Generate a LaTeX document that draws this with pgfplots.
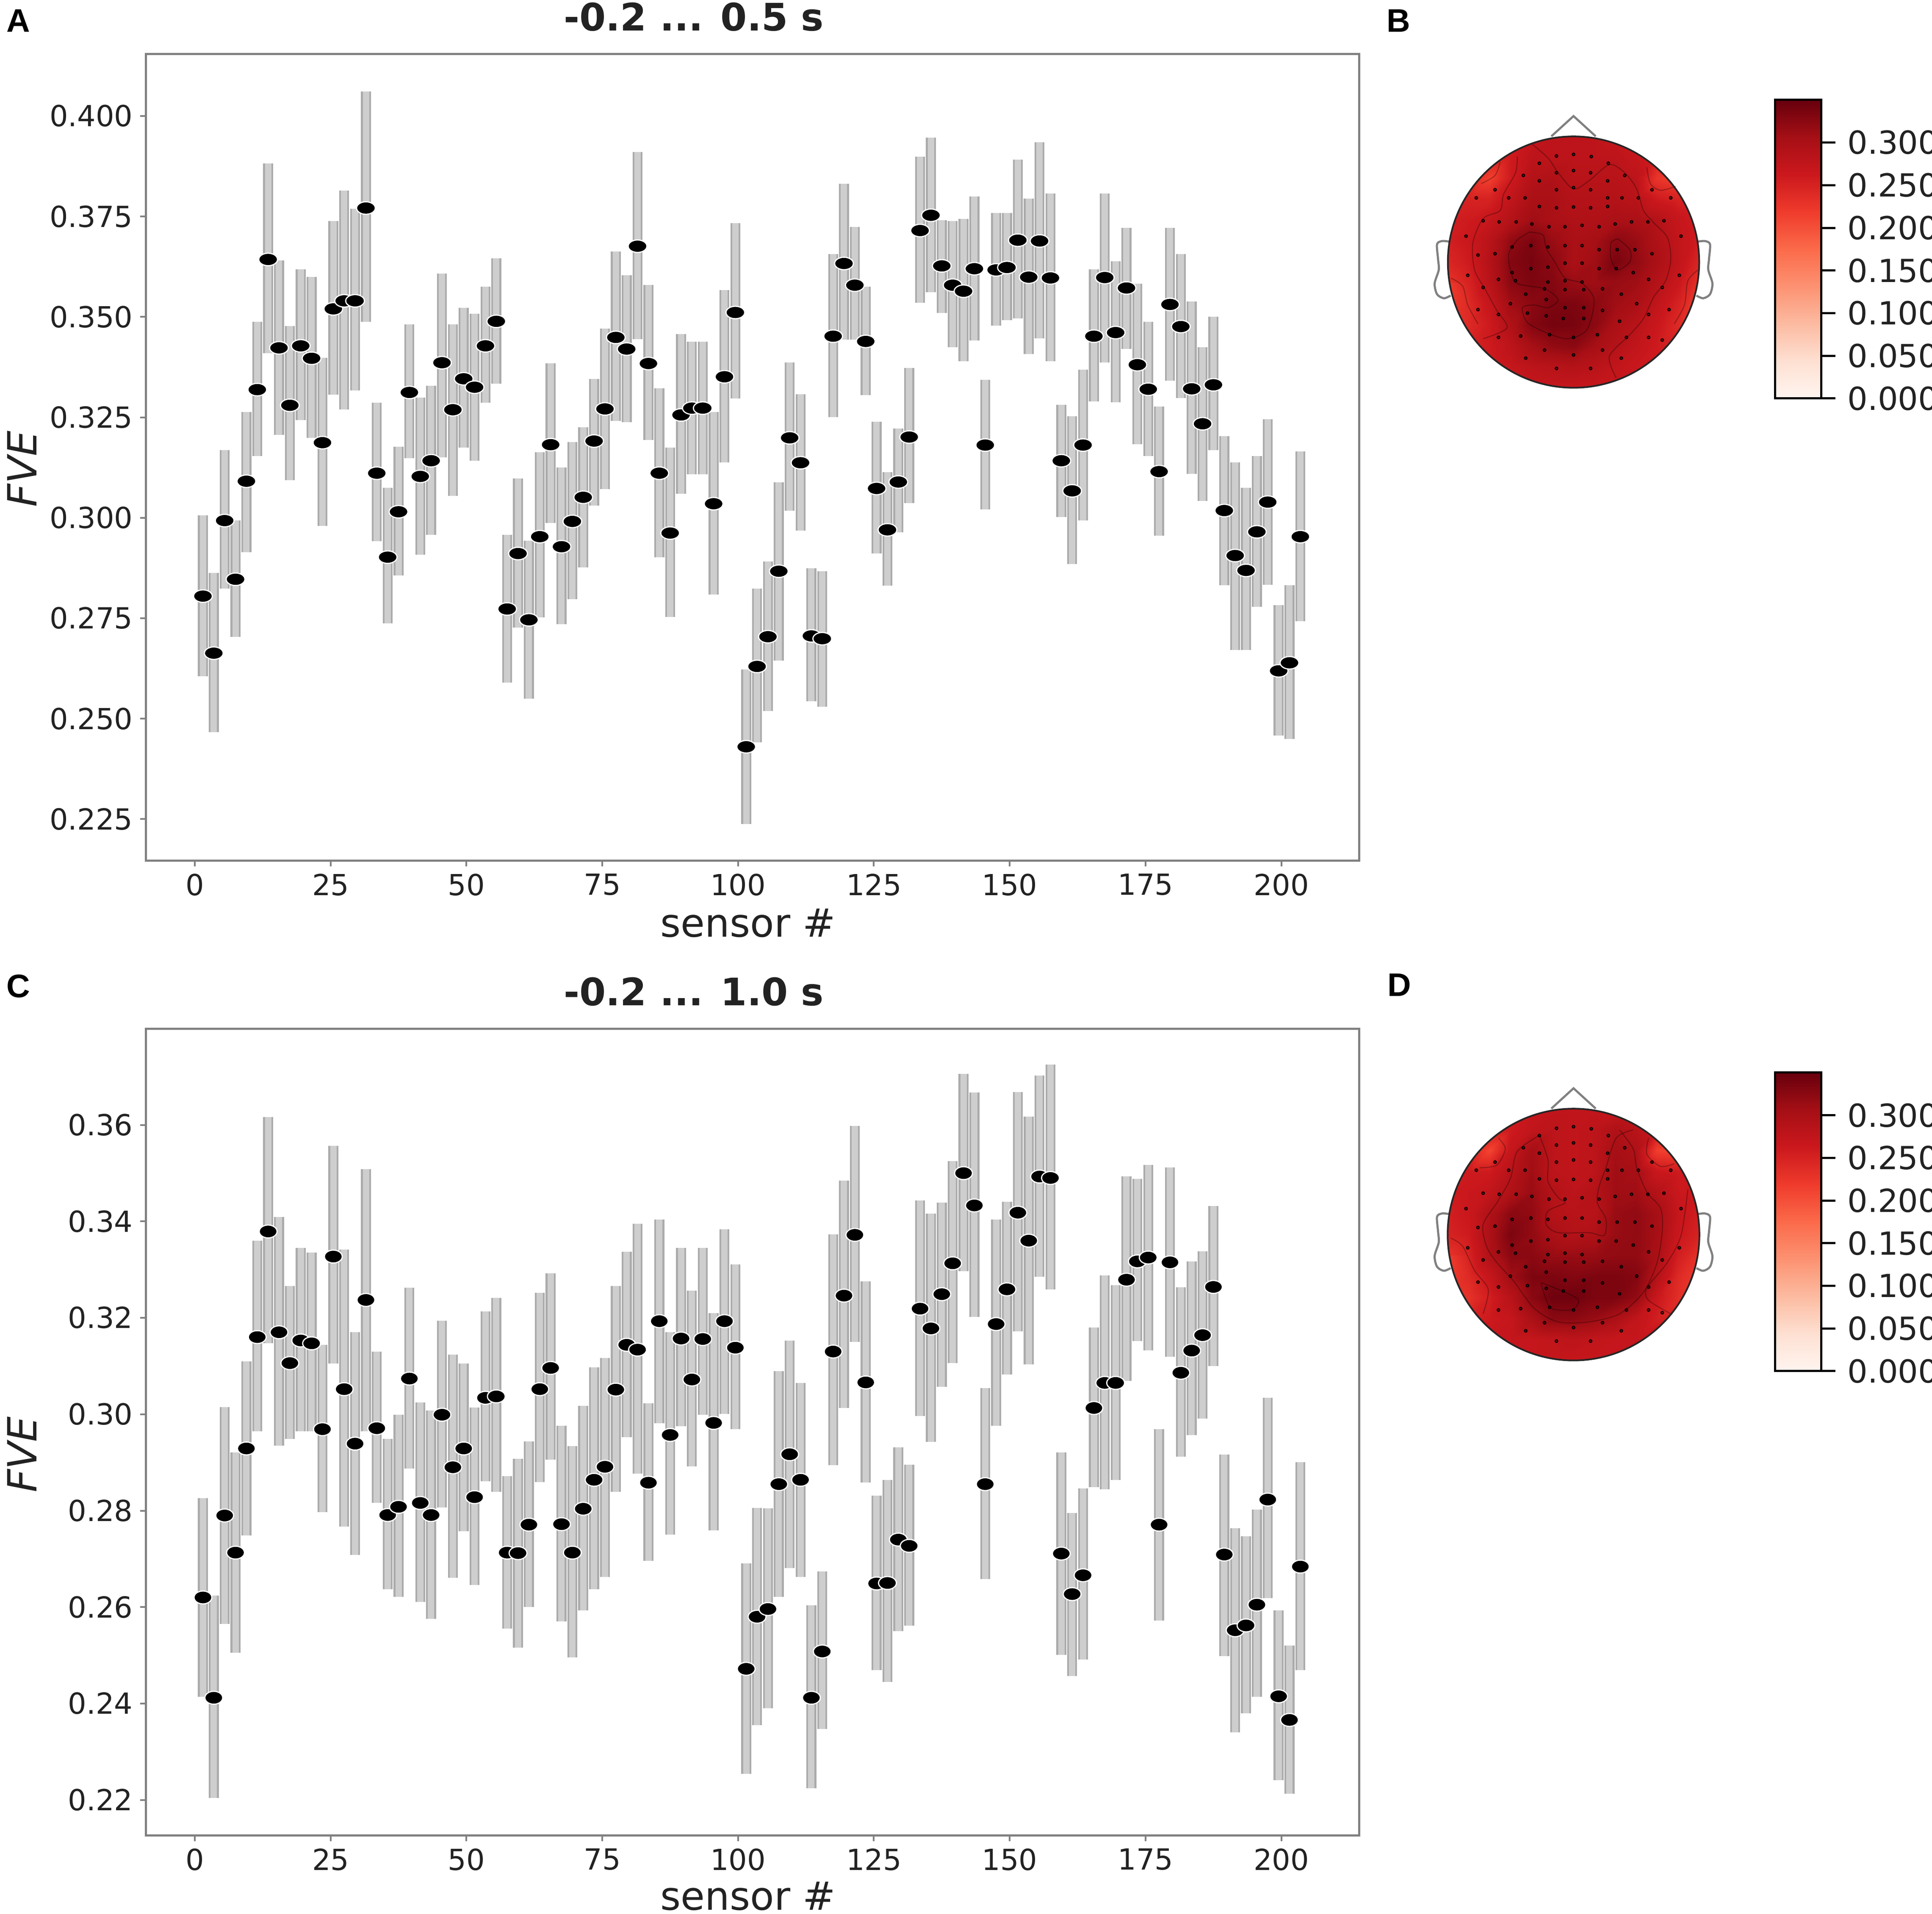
\documentclass[border=0pt]{standalone}
\usepackage{fontspec}
\setmainfont{DejaVu Sans}
\newfontfamily\panelfont{Liberation Sans}
\usepackage{pgfplots}
\usepackage{pgfplotstable}
\pgfplotsset{compat=1.18}
\definecolor{axgray}{HTML}{808080}
\definecolor{barE}{HTML}{ABABAB}
\definecolor{barI}{HTML}{CECECE}
\definecolor{lab}{HTML}{222222}
\pgfplotsset{colormap={reds}{rgb255=(255,245,240) rgb255=(254,224,210) rgb255=(252,187,161) rgb255=(252,146,114) rgb255=(251,106,74) rgb255=(239,59,44) rgb255=(203,24,29) rgb255=(165,15,21) rgb255=(103,0,13)}}

\pgfplotstableread{
x y hi lo
1.5 .2805 .3006 .2606
3.5 .2663 .2863 .2466
5.5 .2993 .3168 .2824
7.5 .2847 .2993 .2704
9.5 .3091 .3263 .2914
11.5 .3319 .3488 .3154
13.5 .3643 .3882 .3410
15.5 .3423 .3641 .3206
17.5 .3280 .3477 .3094
19.5 .3428 .3619 .3243
21.5 .3397 .3599 .3199
23.5 .3187 .3398 .2980
25.5 .3520 .3739 .3307
27.5 .3540 .3815 .3270
29.5 .3540 .3769 .3317
31.5 .3771 .4061 .3488
33.5 .3111 .3286 .2942
35.5 .2902 .3075 .2737
37.5 .3015 .3177 .2856
39.5 .3312 .3481 .3148
41.5 .3103 .3299 .2908
43.5 .3142 .3329 .2958
45.5 .3386 .3608 .3150
47.5 .3269 .3481 .3055
49.5 .3346 .3523 .3175
51.5 .3325 .3508 .3142
53.5 .3428 .3575 .3286
55.5 .3489 .3646 .3334
57.5 .2773 .2958 .2590
59.5 .2911 .3098 .2727
61.5 .2746 .2943 .2550
63.5 .2953 .3163 .2752
65.5 .3182 .3385 .2987
67.5 .2928 .3125 .2735
69.5 .2991 .3188 .2797
71.5 .3051 .3225 .2876
73.5 .3191 .3346 .3030
75.5 .3271 .3471 .3071
77.5 .3449 .3663 .3241
79.5 .3420 .3604 .3238
81.5 .3676 .3910 .3445
83.5 .3384 .3579 .3194
85.5 .3111 .3322 .2902
87.5 .2962 .3175 .2753
89.5 .3256 .3457 .3060
91.5 .3273 .3438 .3108
93.5 .3273 .3438 .3108
95.5 .3035 .3263 .2809
97.5 .3351 .3567 .3138
99.5 .3511 .3733 .3297
101.5 .2430 .2622 .2238
103.5 .2630 .2824 .2441
105.5 .2704 .2891 .2519
107.5 .2867 .3088 .2645
109.5 .3199 .3387 .3018
111.5 .3137 .3308 .2968
113.5 .2706 .2874 .2543
115.5 .2699 .2867 .2530
117.5 .3452 .3656 .3251
119.5 .3633 .3831 .3444
121.5 .3579 .3724 .3444
123.5 .3439 .3575 .3305
125.5 .3073 .3239 .2911
127.5 .2970 .3114 .2831
129.5 .3089 .3222 .2964
131.5 .3201 .3373 .3037
133.5 .3715 .3899 .3535
135.5 .3753 .3946 .3562
137.5 .3627 .3741 .3510
139.5 .3579 .3739 .3425
141.5 .3564 .3744 .3390
143.5 .3620 .3800 .3441
145.5 .3181 .3343 .3021
147.5 .3617 .3759 .3478
149.5 .3623 .3759 .3492
151.5 .3691 .3892 .3496
153.5 .3599 .3794 .3408
155.5 .3689 .3935 .3447
157.5 .3597 .3807 .3390
159.5 .3142 .3281 .3002
161.5 .3067 .3253 .2885
163.5 .3181 .3369 .2993
165.5 .3452 .3619 .3290
167.5 .3598 .3807 .3387
169.5 .3461 .3638 .3287
171.5 .3572 .3722 .3420
173.5 .3381 .3583 .3183
175.5 .3320 .3488 .3154
177.5 .3115 .3277 .2956
179.5 .3531 .3722 .3341
181.5 .3476 .3656 .3298
183.5 .3321 .3538 .3109
185.5 .3234 .3425 .3042
187.5 .3331 .3500 .3168
189.5 .3018 .3203 .2832
191.5 .2906 .3138 .2671
193.5 .2869 .3075 .2671
195.5 .2965 .3154 .2778
197.5 .3039 .3245 .2833
199.5 .2619 .2783 .2458
201.5 .2639 .2832 .2450
203.5 .2953 .3165 .2743
}\dataA

\pgfplotstableread{
x y hi lo
1.5 .2620 .2826 .2414
3.5 .2412 .2624 .2204
5.5 .2790 .3015 .2565
7.5 .2713 .2921 .2505
9.5 .2929 .3110 .2749
11.5 .3160 .3360 .2965
13.5 .3379 .3616 .3147
15.5 .3170 .3409 .2935
17.5 .3106 .3266 .2949
19.5 .3153 .3345 .2965
21.5 .3147 .3335 .2965
23.5 .2969 .3144 .2797
25.5 .3327 .3557 .3105
27.5 .3052 .3341 .2767
29.5 .2939 .3170 .2708
31.5 .3237 .3508 .2965
33.5 .2971 .3130 .2816
35.5 .2791 .2949 .2637
37.5 .2808 .2999 .2621
39.5 .3074 .3262 .2887
41.5 .2816 .3024 .2611
43.5 .2791 .3008 .2576
45.5 .2999 .3194 .2807
47.5 .2890 .3124 .2661
49.5 .2929 .3105 .2757
51.5 .2828 .3014 .2646
53.5 .3034 .3213 .2861
55.5 .3037 .3241 .2839
57.5 .2713 .2872 .2555
59.5 .2712 .2908 .2516
61.5 .2771 .2944 .2600
63.5 .3052 .3252 .2859
65.5 .3096 .3292 .2906
67.5 .2772 .2976 .2570
69.5 .2713 .2934 .2496
71.5 .2804 .3017 .2593
73.5 .2864 .3097 .2637
75.5 .2891 .3117 .2663
77.5 .3051 .3266 .2839
79.5 .3144 .3337 .2952
81.5 .3134 .3395 .2877
83.5 .2858 .3023 .2696
85.5 .3193 .3404 .2981
87.5 .2957 .3170 .2750
89.5 .3157 .3345 .2975
91.5 .3072 .3256 .2892
93.5 .3156 .3345 .2999
95.5 .2982 .3210 .2759
97.5 .3193 .3384 .3001
99.5 .3138 .3311 .2969
101.5 .2472 .2691 .2254
103.5 .2580 .2806 .2355
105.5 .2596 .2805 .2390
107.5 .2855 .3089 .2621
109.5 .2917 .3153 .2681
111.5 .2864 .3065 .2663
113.5 .2412 .2604 .2224
115.5 .2508 .2674 .2347
117.5 .3130 .3373 .2894
119.5 .3246 .3485 .3013
121.5 .3372 .3598 .3150
123.5 .3066 .3276 .2858
125.5 .2649 .2831 .2469
127.5 .2650 .2864 .2445
129.5 .2740 .2931 .2550
131.5 .2727 .2895 .2562
133.5 .3219 .3443 .2996
135.5 .3178 .3416 .2943
137.5 .3249 .3439 .3057
139.5 .3313 .3525 .3106
141.5 .3500 .3706 .3297
143.5 .3433 .3667 .3202
145.5 .2855 .3054 .2658
147.5 .3187 .3404 .2976
149.5 .3259 .3441 .3082
151.5 .3418 .3668 .3172
153.5 .3360 .3617 .3103
155.5 .3493 .3702 .3285
157.5 .3490 .3725 .3259
159.5 .2711 .2921 .2501
161.5 .2627 .2795 .2457
163.5 .2666 .2846 .2491
165.5 .3013 .3180 .2849
167.5 .3065 .3288 .2844
169.5 .3065 .3268 .2864
171.5 .3279 .3493 .3069
173.5 .3317 .3488 .3152
175.5 .3325 .3517 .3132
177.5 .2771 .2969 .2572
179.5 .3315 .3512 .3119
181.5 .3086 .3263 .2912
183.5 .3132 .3317 .2957
185.5 .3164 .3338 .2991
187.5 .3264 .3432 .3100
189.5 .2709 .2916 .2498
191.5 .2552 .2764 .2340
193.5 .2562 .2747 .2380
195.5 .2605 .2802 .2414
197.5 .2823 .3034 .2619
199.5 .2415 .2593 .2241
201.5 .2366 .2520 .2213
203.5 .2684 .2901 .2469
}\dataC

% sensor positions, in the coordinates of the head axes
\pgfplotstableread{
x y
465 578
515 572
567 580
415 605
617 605
515 632
465 640
565 640
368 650
665 650
415 670
615 670
515 695
465 703
565 703
285 703
745 703
325 733
373 733
615 733
657 733
705 733
230 733
800 733
465 770
515 767
565 770
415 765
615 765
250 818
297 822
347 822
393 830
443 840
490 840
540 835
590 840
637 830
685 822
733 822
780 818
200 875
830 875
490 910
540 910
590 925
440 915
643 925
335 915
390 910
695 925
235 945
285 940
745 940
490 975
540 975
390 995
440 990
590 995
640 995
335 1010
690 1010
205 1020
825 1020
295 1035
735 1035
345 1040
490 1040
540 1045
440 1045
250 1065
775 1065
600 1070
430 1070
375 1090
655 1090
490 1073
545 1073
330 1125
700 1125
435 1110
490 1140
545 1140
600 1150
235 1147
795 1147
295 1165
380 1160
435 1170
485 1180
545 1180
650 1190
735 1165
445 1240
515 1250
585 1240
295 1250
360 1245
670 1250
735 1250
775 1260
430 1297
600 1297
515 1315
375 1327
655 1327
465 1365
565 1365
}\sensors

\pgfplotstableread[row sep=crcr,header=false]{
.26\\.26\\.26\\.26\\.27\\.28\\.28\\.28\\.27\\.26\\.26\\.26\\.26\\%
.25\\.25\\.25\\.26\\.28\\.28\\.28\\.28\\.28\\.27\\.25\\.25\\.25\\%
.24\\.24\\.215\\.26\\.29\\.295\\.285\\.285\\.285\\.28\\.225\\.215\\.24\\%
.245\\.25\\.25\\.275\\.30\\.30\\.29\\.29\\.29\\.285\\.26\\.25\\.245\\%
.255\\.26\\.27\\.29\\.31\\.30\\.295\\.295\\.30\\.30\\.29\\.27\\.255\\%
.255\\.265\\.285\\.32\\.335\\.315\\.30\\.305\\.325\\.315\\.295\\.275\\.255\\%
.245\\.26\\.29\\.33\\.338\\.325\\.30\\.31\\.338\\.32\\.30\\.275\\.245\\%
.23\\.25\\.285\\.325\\.335\\.33\\.315\\.31\\.315\\.31\\.29\\.265\\.23\\%
.22\\.24\\.27\\.31\\.325\\.335\\.335\\.325\\.31\\.30\\.275\\.25\\.215\\%
.225\\.24\\.26\\.295\\.33\\.34\\.338\\.325\\.30\\.285\\.265\\.24\\.215\\%
.235\\.25\\.26\\.28\\.305\\.32\\.325\\.305\\.29\\.275\\.26\\.25\\.235\\%
.25\\.25\\.26\\.27\\.28\\.285\\.29\\.285\\.275\\.265\\.26\\.25\\.25\\%
.26\\.26\\.26\\.265\\.27\\.27\\.27\\.27\\.27\\.26\\.26\\.26\\.26\\%
}\mapB

\pgfplotstableread[row sep=crcr,header=false]{
.27\\.27\\.27\\.27\\.27\\.275\\.275\\.275\\.27\\.27\\.27\\.27\\.27\\%
.26\\.26\\.26\\.26\\.275\\.28\\.275\\.28\\.295\\.285\\.26\\.26\\.26\\%
.25\\.25\\.21\\.27\\.305\\.28\\.275\\.28\\.305\\.295\\.215\\.21\\.25\\%
.26\\.26\\.26\\.285\\.31\\.28\\.275\\.28\\.31\\.305\\.265\\.26\\.26\\%
.26\\.265\\.275\\.295\\.315\\.29\\.28\\.29\\.31\\.31\\.29\\.265\\.26\\%
.255\\.265\\.295\\.325\\.32\\.29\\.285\\.285\\.315\\.32\\.305\\.27\\.255\\%
.25\\.26\\.30\\.335\\.32\\.30\\.29\\.295\\.315\\.32\\.305\\.265\\.25\\%
.23\\.25\\.295\\.325\\.325\\.315\\.315\\.315\\.32\\.32\\.30\\.255\\.23\\%
.22\\.24\\.27\\.31\\.335\\.335\\.33\\.335\\.335\\.33\\.29\\.24\\.22\\%
.22\\.23\\.255\\.285\\.325\\.345\\.345\\.335\\.335\\.32\\.265\\.235\\.22\\%
.235\\.25\\.26\\.27\\.30\\.325\\.325\\.315\\.30\\.275\\.255\\.245\\.235\\%
.26\\.265\\.27\\.27\\.27\\.275\\.28\\.275\\.27\\.27\\.27\\.26\\.26\\%
.27\\.27\\.27\\.27\\.27\\.27\\.27\\.27\\.27\\.27\\.27\\.27\\.27\\%
}\mapD

\pgfplotstableread{
x y
0 0
1 0
0 .04375
1 .04375
0 .0875
1 .0875
0 .13125
1 .13125
0 .175
1 .175
0 .21875
1 .21875
0 .2625
1 .2625
0 .30625
1 .30625
0 .35
1 .35
}\cbar

\pgfplotsset{
  mainax/.style={
    scale only axis, width=573pt, height=381pt,
    xmin=-9.04, xmax=214.3,
    axis line style={draw=axgray, line width=1pt},
    xtick={0,25,50,75,100,125,150,175,200},
    xtick pos=bottom, ytick pos=left, tick align=outside,
    major tick length=2.6pt,
    every tick/.style={draw=axgray, line width=.8pt},
    tick label style={font=\fontsize{13.7}{15}\selectfont, text=lab},
    /pgf/number format/assume math mode=true,
    /pgf/number format/fixed, /pgf/number format/zerofill,
    xticklabel style={/pgf/number format/precision=0, /pgf/number format/zerofill=false},
    xlabel={sensor \#}, ylabel={FVE},
    title style={at={(axis description cs:0.5,1)}, anchor=base, xshift=-27.7pt, yshift=5pt, font=\fontsize{17.9}{20}\selectfont\bfseries, text=lab},
  },
  xlab/.style={every axis x label/.style={at={(axis description cs:0.5,0)}, anchor=base, xshift=-2pt, yshift=#1, font=\fontsize{18.5}{20}\selectfont, text=lab}},
  headax/.style={
    scale only axis, width=118.6pt,
    xmin=147, xmax=883, ymin=505, ymax=1437,
    y dir=reverse, hide axis, clip=false, enlargelimits=false,
  },
  cbax/.style={
    scale only axis, width=21.8pt, height=141pt,
    xmin=0, xmax=1, ymin=0, ymax=.35,
    colormap name=reds, point meta min=0, point meta max=.35,
    axis line style={draw=black, line width=1pt},
    xtick=\empty, ytick={0,.05,.1,.15,.2,.25,.3},
    ytick pos=right, yticklabel pos=right, tick align=outside,
    major tick length=6.8pt,
    every tick/.style={draw=black, line width=1pt},
    axis on top,
    yticklabel style={font=\fontsize{15}{16}\selectfont, text=lab, anchor=west, xshift=2.2pt},
    /pgf/number format/assume math mode=true,
    /pgf/number format/fixed, /pgf/number format/zerofill, /pgf/number format/precision=3,
  },
  ctr/.style={draw=black, draw opacity=.28, line width=.5pt, smooth, no marks, forget plot},
  headline/.style={draw=black!50, line width=1pt, no marks, forget plot},
  surfmap/.style={surf, shader=interp, mesh/cols=13, point meta=explicit, forget plot},
  dots/.style={only marks, mark=*, mark size=.65pt, mark options={fill=black, draw=none, fill opacity=.42}, forget plot},
}

\newcommand{\errbars}[1]{%
  \addplot[draw=none, no marks, forget plot, error bars/.cd, y dir=both, y explicit, error mark=none, error bar style={line width=4.7pt, color=barE}]
    table[x=x, y=y, y error plus expr=\thisrow{hi}-\thisrow{y}, y error minus expr=\thisrow{y}-\thisrow{lo}]{#1};
  \addplot[draw=none, no marks, forget plot, error bars/.cd, y dir=both, y explicit, error mark=none, error bar style={line width=3pt, color=barI}]
    table[x=x, y=y, y error plus expr=\thisrow{hi}-\thisrow{y}, y error minus expr=\thisrow{y}-\thisrow{lo}]{#1};
}
\newcommand{\headparts}{%
  \addplot[headline] coordinates {(450,505) (515,430) (580,505)};
  \addplot[headline, smooth] coordinates {(150,895) (130,893) (115,905) (118,960) (120,1000) (108,1050) (115,1090) (135,1105) (155,1095)};
  \addplot[headline, smooth] coordinates {(880,895) (900,893) (915,905) (912,960) (910,1000) (922,1050) (915,1090) (895,1105) (875,1095)};
}

\begin{document}
\begin{tikzpicture}[x=1pt,y=1pt]
\path[use as bounding box] (0,0) rectangle (912.4pt,904pt);

% ---------- panel A
\begin{axis}[mainax, xlab=-36pt, at={(68.8pt,497.4pt)}, anchor=south west, ymin=.2146, ymax=.4154,
  ytick={.225,.25,.275,.3,.325,.35,.375,.4},
  yticklabel style={/pgf/number format/precision=3},
  every axis y label/.style={at={(axis description cs:0,0.5)}, xshift=-58.4pt, yshift=-5.4pt, rotate=90, anchor=center, font=\fontsize{19}{20}\selectfont\itshape, text=lab},
  title={-0.2 ... 0.5 s}]
\errbars{\dataA}
\addplot[only marks, mark=*, mark size=2.95pt, mark options={xscale=1.5, fill=black, draw=white, line width=.55pt}] table[x=x,y=y]{\dataA};
\end{axis}

% ---------- panel C
\begin{axis}[mainax, xlab=-35.2pt, at={(68.8pt,37pt)}, anchor=south west, ymin=.2126, ymax=.3799,
  ytick={.22,.24,.26,.28,.3,.32,.34,.36},
  yticklabel style={/pgf/number format/precision=2},
  every axis y label/.style={at={(axis description cs:0,0.5)}, xshift=-58.4pt, yshift=-10.5pt, rotate=90, anchor=center, font=\fontsize{19}{20}\selectfont\itshape, text=lab},
  title={-0.2 ... 1.0 s}]
\errbars{\dataC}
\addplot[only marks, mark=*, mark size=3.05pt, mark options={xscale=1.38, fill=black, draw=white, line width=.55pt}] table[x=x,y=y]{\dataC};
\end{axis}

% ---------- panel B
\begin{scope}
\clip (743.1pt,780.2pt) circle (59.35pt);
\begin{axis}[headax, height=118.8pt, at={(683.8pt,720.8pt)}, anchor=south west, colormap name=reds, point meta min=0, point meta max=.35]
\addplot[surfmap] table[x index=0, y index=0, x expr={147+61.333*mod(\coordindex,13)}, y expr={505+77.667*floor(\coordindex/13)}, meta index=0]{\mapB};
\end{axis}
\end{scope}
\begin{axis}[headax, height=118.8pt, at={(683.8pt,720.8pt)}, anchor=south west]
\addplot[ctr] coordinates {(390,530) (440,585) (470,640) (515,700) (560,670) (620,610) (665,640) (700,700) (720,780) (750,825) (790,880) (800,960) (785,1040) (750,1100) (720,1180) (680,1240) (620,1320) (640,1400)};
\addplot[ctr] coordinates {(350,580) (345,640) (310,720) (300,780) (250,810) (220,900) (225,1000) (255,1070) (290,1150) (320,1215) (250,1255)};
\addplot[ctr] coordinates {(385,860) (425,870) (435,920) (460,970) (490,1030) (540,1050) (575,1110) (555,1220) (500,1255) (440,1235) (380,1195) (365,1140) (400,1130) (440,1140) (470,1110) (430,1070) (350,1050) (330,1000) (325,940) (350,890) (385,860)};
\addplot[ctr] coordinates {(645,885) (680,925) (680,970) (645,1000) (625,960) (625,900) (645,885)};
\addplot[ctr] coordinates {(730,620) (740,680) (770,705) (815,690)};
\addplot[ctr] coordinates {(245,680) (285,650) (300,600)};
\addplot[ctr] coordinates {(155,1030) (190,1060) (205,1130) (235,1200)};
\addplot[ctr] coordinates {(880,1000) (850,1040) (840,1130) (810,1200)};
\addplot[dots] table[x=x,y=y]{\sensors};
\headparts
\end{axis}
\draw[black!85, line width=.8pt] (743.1pt,780.2pt) circle (59.35pt);

\begin{axis}[cbax, at={(838.2pt,715.8pt)}, anchor=south west]
\addplot[surf, shader=interp, mesh/cols=2, point meta=y, forget plot] table[x=x,y=y]{\cbar};
\end{axis}

% ---------- panel D
\begin{scope}
\clip (743.1pt,320.9pt) circle (59.45pt);
\begin{axis}[headax, height=119pt, at={(683.8pt,261.4pt)}, anchor=south west, colormap name=reds, point meta min=0, point meta max=.35]
\addplot[surfmap] table[x index=0, y index=0, x expr={147+61.333*mod(\coordindex,13)}, y expr={505+77.667*floor(\coordindex/13)}, meta index=0]{\mapD};
\end{axis}
\end{scope}
\begin{axis}[headax, height=119pt, at={(683.8pt,261.4pt)}, anchor=south west]
\addplot[ctr] coordinates {(415,604) (350,664) (330,764) (290,854) (250,934) (260,1014) (290,1074) (340,1144) (400,1244) (470,1294) (560,1294) (650,1264) (720,1184) (760,1074) (775,954) (770,874) (730,814) (700,724) (690,654) (650,584)};
\addplot[ctr] coordinates {(415,604) (440,694) (440,774) (470,834) (490,854) (440,884) (435,934) (470,964) (560,964) (605,974) (610,914) (585,854) (590,794) (610,724) (640,614) (690,584)};
\addplot[ctr] coordinates {(420,1149) (490,1184) (530,1214) (510,1249) (450,1244) (430,1194) (420,1149)};
\addplot[ctr] coordinates {(240,724) (290,714) (315,654) (295,614)};
\addplot[ctr] coordinates {(735,614) (730,674) (770,719) (810,709)};
\addplot[ctr] coordinates {(155,984) (190,1014) (225,1104) (265,1174) (250,1264)};
\addplot[ctr] coordinates {(850,804) (830,974) (790,1074) (730,1169) (735,1214) (800,1264)};
\addplot[dots] table[x=x,y=y]{\sensors};
\headparts
\end{axis}
\draw[black!85, line width=.8pt] (743.1pt,320.9pt) circle (59.45pt);

\begin{axis}[cbax, at={(838.2pt,256.4pt)}, anchor=south west]
\addplot[surf, shader=interp, mesh/cols=2, point meta=y, forget plot] table[x=x,y=y]{\cbar};
\end{axis}

% ---------- panel letters
\node[anchor=base west, inner sep=0pt, font=\fontsize{15.4}{18}\selectfont\panelfont\bfseries] at (2.8pt,888.8pt) {A};
\node[anchor=base west, inner sep=0pt, font=\fontsize{15.4}{18}\selectfont\panelfont\bfseries] at (654.6pt,888.8pt) {B};
\node[anchor=base west, inner sep=0pt, font=\fontsize{15.4}{18}\selectfont\panelfont\bfseries] at (2.8pt,432.8pt) {C};
\node[anchor=base west, inner sep=0pt, font=\fontsize{15.4}{18}\selectfont\panelfont\bfseries] at (655pt,433.4pt) {D};
\end{tikzpicture}
\end{document}
